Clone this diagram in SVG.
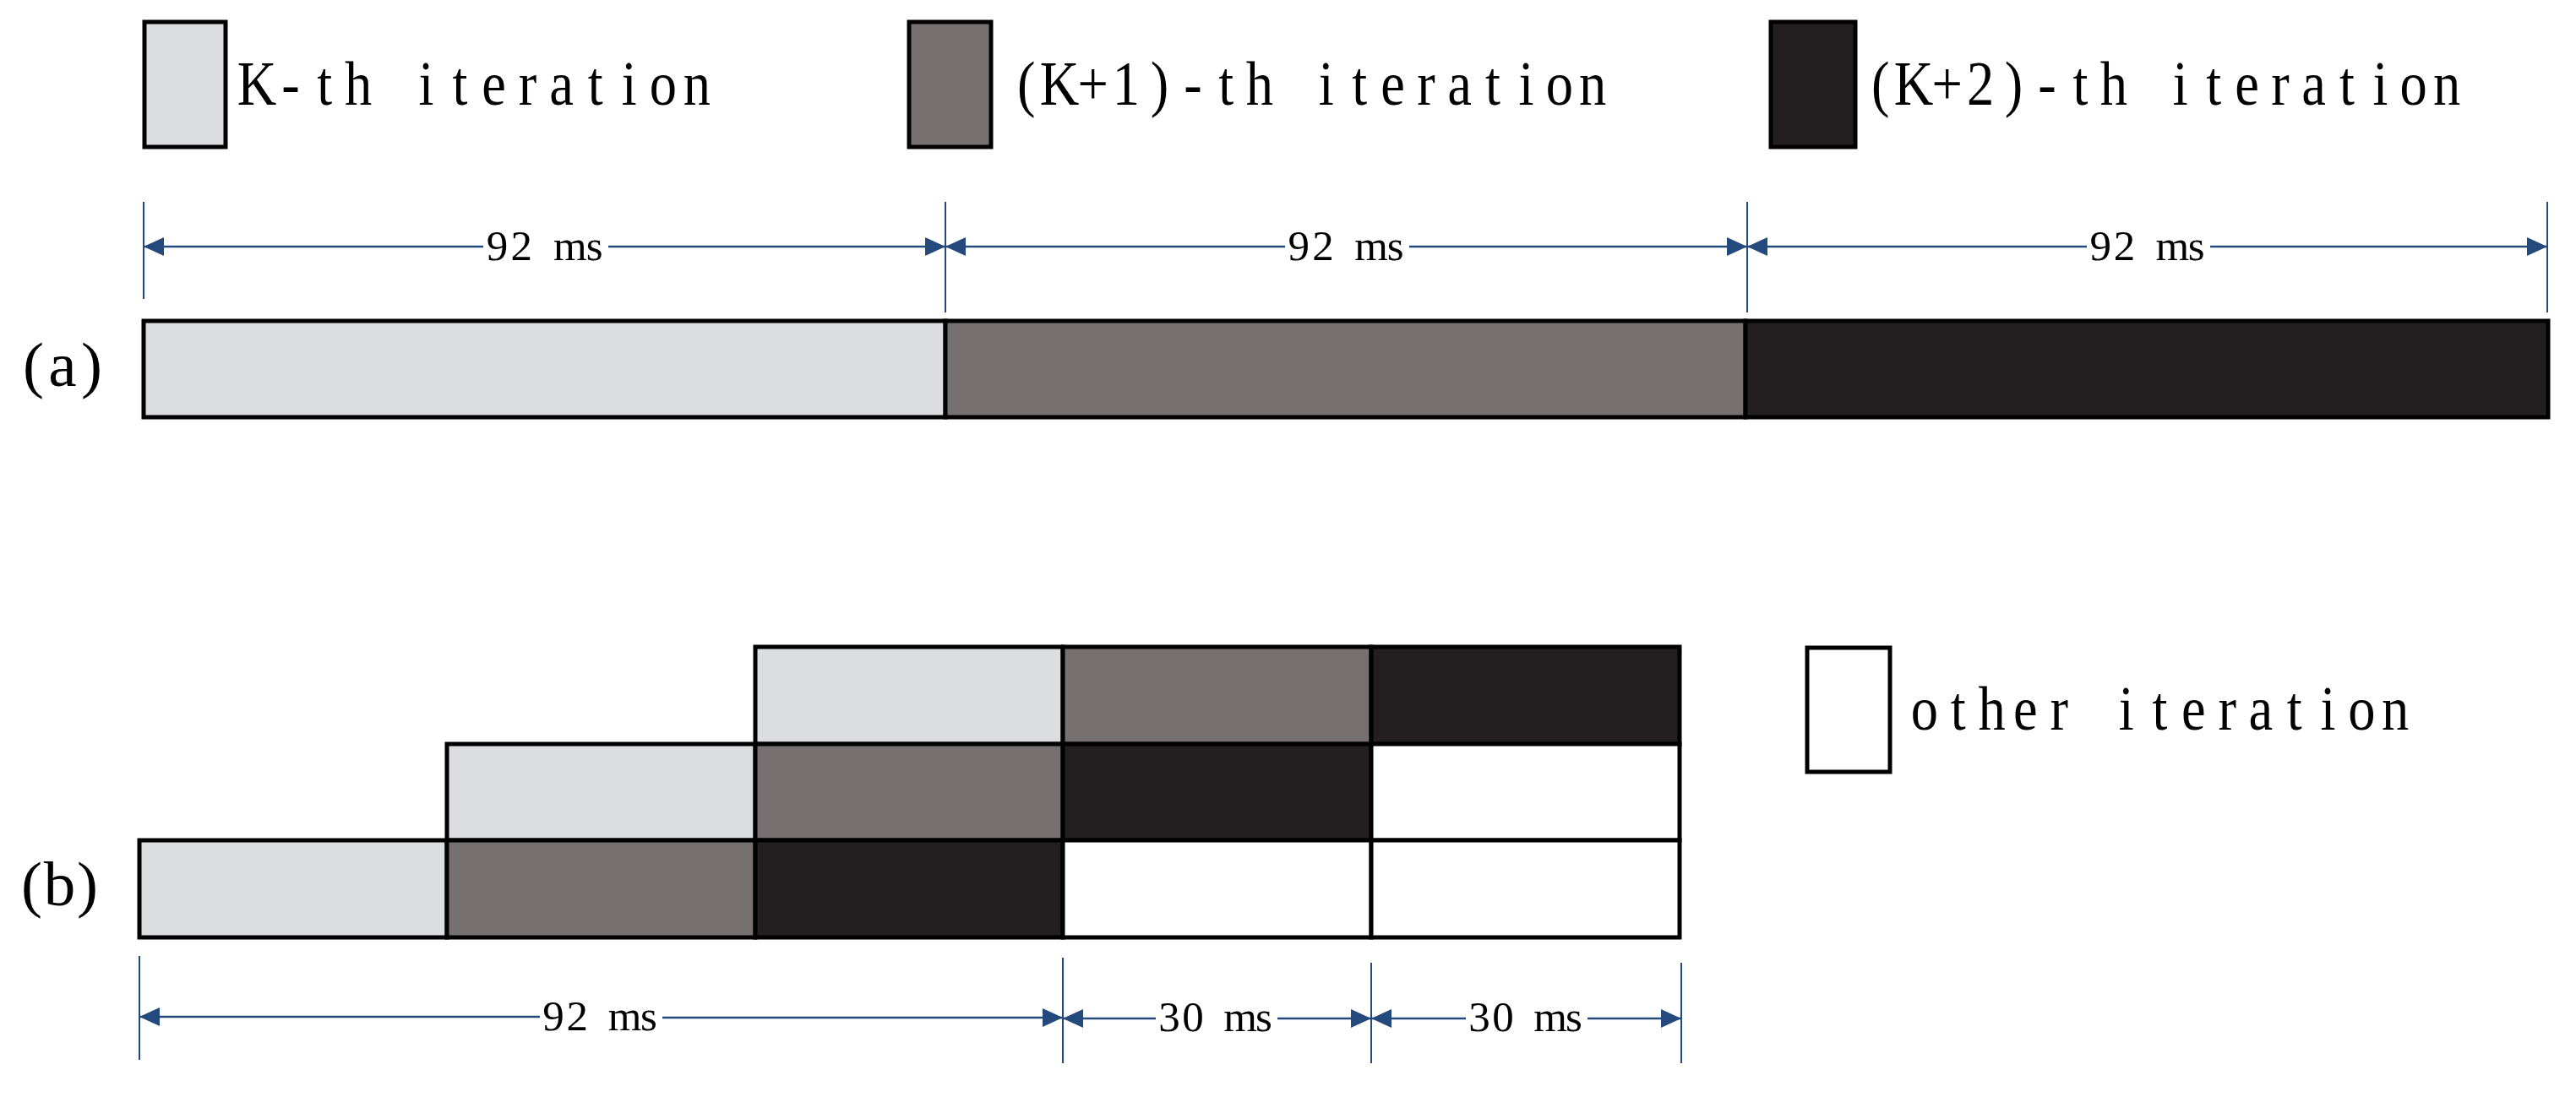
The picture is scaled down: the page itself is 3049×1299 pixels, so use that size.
<svg xmlns="http://www.w3.org/2000/svg" width="3049" height="1299" viewBox="0 0 3049 1299">
<style>
.k0{fill:#DCDDDF}
.k1{fill:#767170}
.k2{fill:#231F20}
.kw{fill:#FFFFFF}
.cell{stroke:#000;stroke-width:5}
.leg{stroke:#000;stroke-width:5}
.t{font-family:"Liberation Serif","Times New Roman",serif;fill:#000}
.m{text-anchor:middle}
.tl{font-size:75px}
.td{font-size:51px}
.dim{stroke:#24497C;stroke-width:2.5;fill:none}
.ext{stroke:#24497C;stroke-width:2;fill:none}
</style>
<defs>
<marker id="ah" markerUnits="userSpaceOnUse" markerWidth="26" markerHeight="24" refX="24" refY="12" orient="auto">
<path d="M0,1 L24,12 L0,23 Z" fill="#24497C"/>
</marker>
</defs>
<rect width="3049" height="1299" fill="#FFFFFF"/>

<g id="legend-k">
<rect class="leg k0" x="171" y="26" width="96" height="148"/>
<text class="t tl m" transform="scale(0.86,1)" x="353.5 400.1 446.7 493.3 539.9 586.5 633.1 679.7 726.3 772.8 819.4 866 912.6 959.2" y="124">K-th iteration</text>
</g>
<g id="legend-k1">
<rect class="leg k1" x="1076" y="26" width="97" height="148"/>
<text class="t tl m" transform="scale(0.86,1)" x="1412.5 1458.3 1504.2 1550 1595.9 1641.8 1687.6 1733.5 1779.4 1825.2 1871.1 1917 1962.8 2008.7 2054.5 2100.4 2146.3 2192.1" y="124">(K+1)-th iteration</text>
</g>
<g id="legend-k2">
<rect class="leg k2" x="2096" y="26" width="100" height="148"/>
<text class="t tl m" transform="scale(0.86,1)" x="2588 2633.9 2679.8 2725.6 2771.5 2817.4 2863.2 2909.1 2954.9 3000.8 3046.7 3092.5 3138.4 3184.3 3230.1 3276 3321.8 3367.7" y="124">(K+2)-th iteration</text>
</g>
<g id="legend-other">
<rect class="leg kw" x="2139" y="767" width="98" height="147"/>
<text class="t tl m" transform="scale(0.86,1)" x="2648.7 2695 2741.3 2787.6 2833.9 2880.1 2926.4 2972.7 3019 3065.3 3111.5 3157.8 3204.1 3250.4 3296.7" y="864">other iteration</text>
</g>

<g id="label-a"><text class="t" font-size="75" x="27" y="457" textLength="94" lengthAdjust="spacing">(a)</text></g>
<g id="label-b"><text class="t" font-size="75" x="25" y="1072" textLength="91" lengthAdjust="spacing">(b)</text></g>

<g id="bar-a">
<rect class="cell k0" x="170" y="380" width="949" height="114"/>
<rect class="cell k1" x="1119" y="380" width="947" height="114"/>
<rect class="cell k2" x="2066" y="380" width="950" height="114"/>
</g>

<g id="grid-b">
<rect class="cell k0" x="894" y="766" width="364" height="115"/>
<rect class="cell k1" x="1258" y="766" width="365" height="115"/>
<rect class="cell k2" x="1623" y="766" width="365" height="115"/>

<rect class="cell k0" x="529" y="881" width="365" height="114"/>
<rect class="cell k1" x="894" y="881" width="364" height="114"/>
<rect class="cell k2" x="1258" y="881" width="365" height="114"/>
<rect class="cell kw" x="1623" y="881" width="365" height="114"/>

<rect class="cell k0" x="165" y="995" width="364" height="115"/>
<rect class="cell k1" x="529" y="995" width="365" height="115"/>
<rect class="cell k2" x="894" y="995" width="364" height="115"/>
<rect class="cell kw" x="1258" y="995" width="365" height="115"/>
<rect class="cell kw" x="1623" y="995" width="365" height="115"/>
</g>

<g id="connectors">
<line class="ext" x1="170" y1="239" x2="170" y2="354"/>
<line class="ext" x1="1119" y1="239" x2="1119" y2="370"/>
<line class="ext" x1="2068" y1="239" x2="2068" y2="370"/>
<line class="ext" x1="3015" y1="239" x2="3015" y2="370"/>
<line class="dim" x1="572" y1="292" x2="170" y2="292" marker-end="url(#ah)"/>
<line class="dim" x1="720" y1="292" x2="1119" y2="292" marker-end="url(#ah)"/>
<line class="dim" x1="1521" y1="292" x2="1119" y2="292" marker-end="url(#ah)"/>
<line class="dim" x1="1668" y1="292" x2="2068" y2="292" marker-end="url(#ah)"/>
<line class="dim" x1="2470" y1="292" x2="2068" y2="292" marker-end="url(#ah)"/>
<line class="dim" x1="2616" y1="292" x2="3015" y2="292" marker-end="url(#ah)"/>

<line class="ext" x1="165" y1="1132" x2="165" y2="1255"/>
<line class="ext" x1="1258" y1="1134" x2="1258" y2="1259"/>
<line class="ext" x1="1623" y1="1140" x2="1623" y2="1259"/>
<line class="ext" x1="1990" y1="1140" x2="1990" y2="1259"/>
<line class="dim" x1="639" y1="1204" x2="165" y2="1204" marker-end="url(#ah)"/>
<line class="dim" x1="784" y1="1205" x2="1258" y2="1205" marker-end="url(#ah)"/>
<line class="dim" x1="1368" y1="1206" x2="1258" y2="1206" marker-end="url(#ah)"/>
<line class="dim" x1="1512" y1="1206" x2="1623" y2="1206" marker-end="url(#ah)"/>
<line class="dim" x1="1735" y1="1206" x2="1623" y2="1206" marker-end="url(#ah)"/>
<line class="dim" x1="1879" y1="1206" x2="1990" y2="1206" marker-end="url(#ah)"/>
</g>

<g id="dim-labels">
<text class="t td m" x="588.4 617.2 646 674.8 703.6" y="308">92 ms</text>
<text class="t td m" x="1537.3 1565.9 1594.5 1623.1 1651.7" y="308">92 ms</text>
<text class="t td m" x="2486.2 2514.6 2543 2571.4 2599.8" y="308">92 ms</text>
<text class="t td m" x="655.1 683.3 711.5 739.7 767.9" y="1220">92 ms</text>
<text class="t td m" x="1384 1412 1440 1468 1496" y="1221">30 ms</text>
<text class="t td m" x="1751 1779 1807 1835 1863" y="1221">30 ms</text>
</g>
</svg>
